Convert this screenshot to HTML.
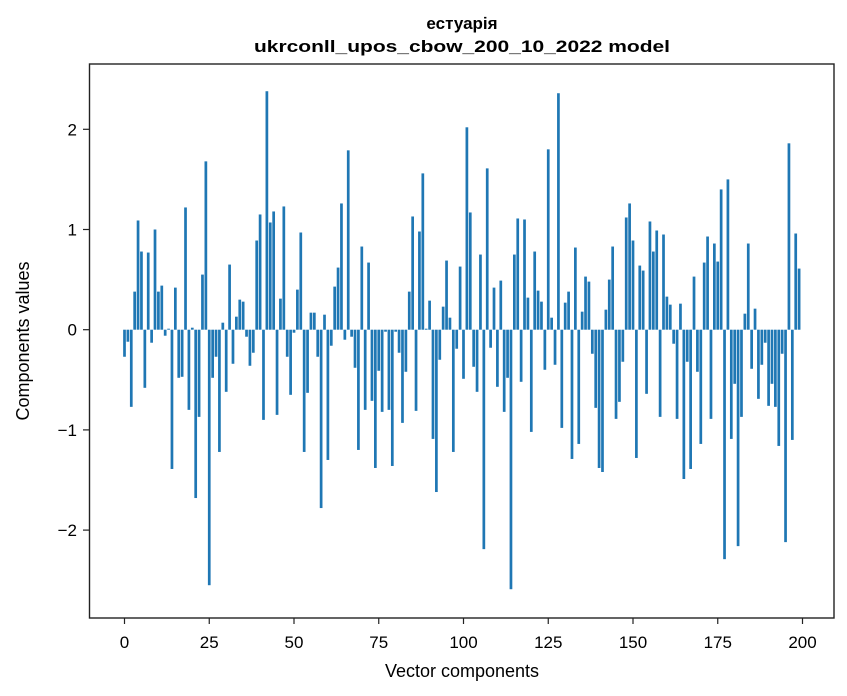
<!DOCTYPE html>
<html><head><meta charset="utf-8"><style>
html,body{margin:0;padding:0;background:#fff;}
svg{display:block;font-family:"Liberation Sans","DejaVu Sans",sans-serif;}
</style></head><body>
<svg id="chart" width="847" height="696" viewBox="0 0 847 696" xmlns="http://www.w3.org/2000/svg">
<rect width="847" height="696" fill="#fff"/>
<text x="462" y="29" text-anchor="middle" font-size="17" font-weight="bold" fill="#000">естуарія</text>
<text x="462" y="52" text-anchor="middle" font-size="17" font-weight="bold" fill="#000" textLength="416" lengthAdjust="spacingAndGlyphs">ukrconll_upos_cbow_200_10_2022 model</text>
<g id="bars"></g>
<g id="axes"></g>
<rect x="89.5" y="64" width="744.5" height="554" fill="none" stroke="#222" stroke-width="1.4"/>
<text x="462" y="677" text-anchor="middle" font-size="18" fill="#000">Vector components</text>
<text transform="translate(29,341) rotate(-90)" text-anchor="middle" font-size="18" fill="#000">Components values</text>
</svg>
<script>
const componentIndex = Array.from({length:200},(_, i)=>i);
const componentValues = [
-0.27,-0.12,-0.77,0.38,1.09,0.78,-0.58,0.77,-0.13,1.0,
0.38,0.44,-0.06,0.01,-1.39,0.42,-0.48,-0.47,1.22,-0.8,
0.02,-1.68,-0.87,0.55,1.68,-2.55,-0.48,-0.27,-1.22,0.07,
-0.62,0.65,-0.34,0.13,0.3,0.28,-0.07,-0.36,-0.23,0.89,
1.15,-0.9,2.38,1.07,1.18,-0.85,0.31,1.23,-0.27,-0.65,
-0.03,0.4,0.97,-1.22,-0.63,0.17,0.17,-0.27,-1.78,0.15,
-1.3,-0.16,0.43,0.62,1.26,-0.1,1.79,-0.07,-0.38,-1.2,
0.83,-0.8,0.67,-0.71,-1.38,-0.41,-0.82,-0.02,-0.8,-1.36,
-0.02,-0.23,-0.93,-0.42,0.38,1.13,-0.81,0.98,1.56,0.01,
0.29,-1.09,-1.62,-0.3,0.23,0.69,0.12,-1.22,-0.19,0.63,
-0.49,2.02,1.17,-0.37,-0.62,0.75,-2.19,1.61,-0.18,0.42,
-0.57,0.49,-0.82,-0.48,-2.59,0.75,1.11,-0.52,1.1,0.32,
-1.02,0.78,0.39,0.28,-0.4,1.8,0.12,-0.35,2.36,-0.98,
0.27,0.38,-1.29,0.82,-1.14,0.18,0.53,0.48,-0.24,-0.78,
-1.38,-1.42,0.2,0.5,0.83,-0.89,-0.72,-0.32,1.12,1.26,
0.89,-1.28,0.64,0.59,-0.64,1.08,0.78,0.99,-0.87,0.95,
0.33,0.25,-0.14,-0.89,0.26,-1.49,-0.32,-1.39,0.53,-0.42,
-1.14,0.67,0.93,-0.89,0.86,0.68,1.4,-2.29,1.5,-1.09,
-0.54,-2.16,-0.87,0.16,0.86,-0.39,0.21,-0.69,-0.35,-0.13,
-0.76,-0.54,-0.77,-1.16,-0.24,-2.12,1.86,-1.1,0.96,0.61];
const xTickValues = [0,25,50,75,100,125,150,175,200];
const yTickValues = [-2,-1,0,1,2];
const yTickLabels = ["\u22122","\u22121","0","1","2"];

const NS = "http://www.w3.org/2000/svg";
const xScale = v => 124.5 + v*3.39;
const yScale = v => 329.7 - v*100.2;
const barW = 0.8*3.39;

const barsG = document.getElementById('bars');
componentIndex.forEach((idx,i)=>{
  const v = componentValues[i];
  const r = document.createElementNS(NS,'rect');
  
  
  const y0 = yScale(0), y1 = yScale(v);
  r.setAttribute('x', xScale(idx)-barW/2);
  r.setAttribute('y', Math.min(y0,y1));
  r.setAttribute('width', barW);
  r.setAttribute('height', Math.max(Math.abs(y1-y0),0.3));
  r.setAttribute('fill','#1f77b4');
  barsG.appendChild(r);
});

const axesG = document.getElementById('axes');
xTickValues.forEach(t=>{
  const x = xScale(t);
  const l = document.createElementNS(NS,'line');
  
  
  l.setAttribute('x1',x);l.setAttribute('x2',x);l.setAttribute('y1',618);l.setAttribute('y2',624);
  l.setAttribute('stroke','#222');l.setAttribute('stroke-width','1.2');
  axesG.appendChild(l);
  const tx = document.createElementNS(NS,'text');
  
  
  tx.setAttribute('x',x);tx.setAttribute('y',648);
  tx.setAttribute('text-anchor','middle');tx.setAttribute('font-size','17');
  tx.textContent = String(t);
  axesG.appendChild(tx);
});
yTickValues.forEach((t,i)=>{
  const y = yScale(t);
  const l = document.createElementNS(NS,'line');
  
  
  l.setAttribute('x1',83);l.setAttribute('x2',89.5);l.setAttribute('y1',y);l.setAttribute('y2',y);
  l.setAttribute('stroke','#222');l.setAttribute('stroke-width','1.2');
  axesG.appendChild(l);
  const tx = document.createElementNS(NS,'text');
  
  
  tx.setAttribute('x',77);tx.setAttribute('y',y+6);
  tx.setAttribute('text-anchor','end');tx.setAttribute('font-size','17');
  tx.textContent = yTickLabels[i];
  axesG.appendChild(tx);
});
</script>
</body></html>
